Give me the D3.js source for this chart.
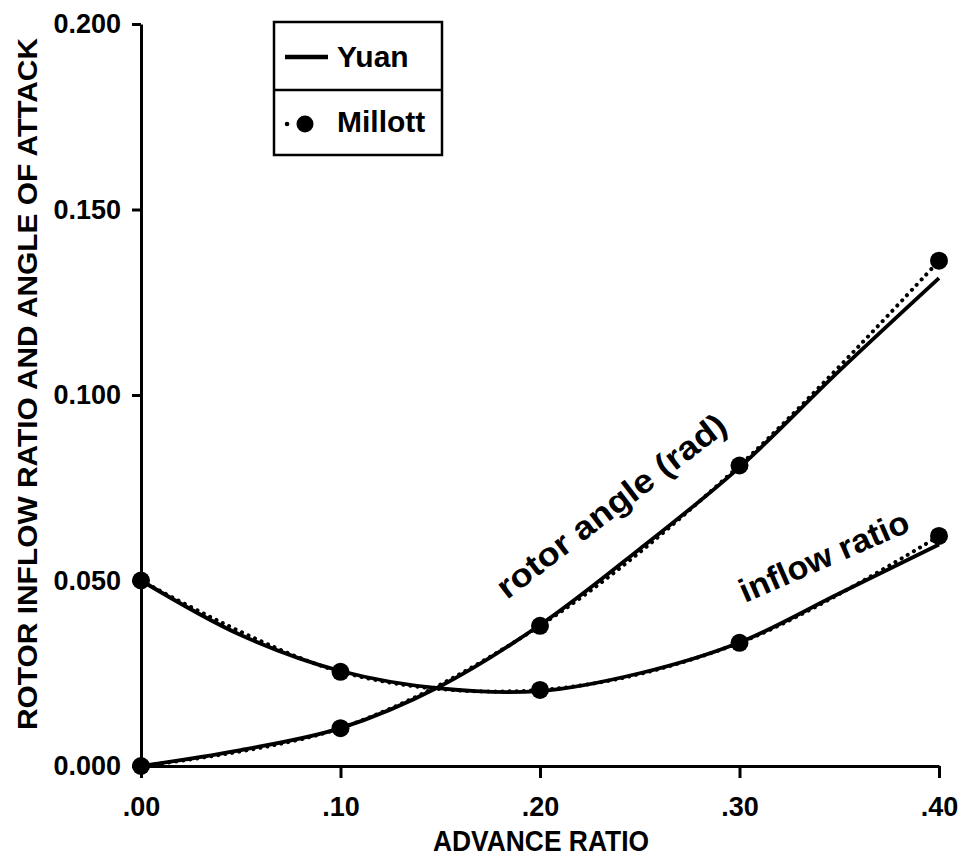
<!DOCTYPE html>
<html>
<head>
<meta charset="utf-8">
<script src="https://cdn.jsdelivr.net/npm/d3@7"></script>
<style>
  html, body { margin: 0; padding: 0; background: #fff; }
  svg { display: block; font-family: "Liberation Sans", Arial, sans-serif; }
</style>
</head>
<body>
<svg id="chart" width="968" height="860"></svg>
<script>
// ---- data ----
const xTicks = [0, 0.10, 0.20, 0.30, 0.40];
const yTicks = [0, 0.05, 0.10, 0.15, 0.20];

// Yuan (solid curves)
const yuanMu        = [0, 0.05, 0.10, 0.15, 0.20, 0.25, 0.30, 0.35, 0.40];
const yuanRotorAngle = [0, 0.0043, 0.0102, 0.0215, 0.0380, 0.0585, 0.0805, 0.1065, 0.1315];
const yuanInflow     = [0.050, 0.0353, 0.0256, 0.0209, 0.0202, 0.0250, 0.0333, 0.0465, 0.0597];

// Millott (dotted + markers)
const millottMu          = [0, 0.10, 0.20, 0.30, 0.40];
const millottRotorAngle  = [0, 0.0102, 0.0378, 0.0810, 0.1362];
const millottInflow      = [0.050, 0.0254, 0.0205, 0.0332, 0.0620];

const legendLabels = ["Yuan", "Millott"];
const xTitle = "ADVANCE RATIO";
const yTitle = "ROTOR INFLOW RATIO AND ANGLE OF ATTACK";
const annotRotor = "rotor angle (rad)";
const annotInflow = "inflow ratio";

// ---- drawing ----
const svg = d3.select("#chart");
const x = d3.scaleLinear().domain([0, 0.4]).range([141, 939]);
const y = d3.scaleLinear().domain([0, 0.2]).range([766, 24]);

// axes
const xAxis = d3.axisBottom(x).tickValues(xTicks)
  .tickFormat(d => d3.format(".2f")(d).replace(/^0\./, "."))
  .tickSize(12).tickSizeOuter(0).tickPadding(19);
const yAxis = d3.axisLeft(y).tickValues(yTicks)
  .tickFormat(d3.format(".3f"))
  .tickSize(9).tickSizeOuter(0).tickPadding(11);

const gx = svg.append("g").attr("transform", `translate(0,${y(0)})`).call(xAxis);
const gy = svg.append("g").attr("transform", `translate(${x(0)},0)`).call(yAxis);
[gx, gy].forEach(g => {
  g.select(".domain").attr("stroke", "#000").attr("stroke-width", 3);
  g.selectAll(".tick line").attr("stroke", "#000").attr("stroke-width", 3);
  g.selectAll(".tick text").attr("fill", "#000")
    .style("font-family", "'Liberation Sans', Arial, sans-serif")
    .style("font-weight", "bold").style("font-size", "27px");
});

// axis titles
svg.append("text")
  .attr("x", 541).attr("y", 851)
  .attr("text-anchor", "middle")
  .attr("textLength", 216).attr("lengthAdjust", "spacingAndGlyphs")
  .style("font-weight", "bold").style("font-size", "29px")
  .text(xTitle);

svg.append("text")
  .attr("transform", "translate(37,384) rotate(-90)")
  .attr("text-anchor", "middle")
  .attr("textLength", 692).attr("lengthAdjust", "spacingAndGlyphs")
  .style("font-weight", "bold").style("font-size", "28px")
  .text(yTitle);

// curves
const lineGen = d3.line().x(d => x(d[0])).y(d => y(d[1])).curve(d3.curveCatmullRom.alpha(0.5));
const zip = (a, b) => a.map((v, i) => [v, b[i]]);

const millottSeries = [zip(millottMu, millottRotorAngle), zip(millottMu, millottInflow)];
const yuanSeries = [zip(yuanMu, yuanRotorAngle), zip(yuanMu, yuanInflow)];

svg.append("g").selectAll("path").data(millottSeries).join("path")
  .attr("d", lineGen).attr("fill", "none").attr("stroke", "#000")
  .attr("stroke-width", 4).attr("stroke-linecap", "round")
  .attr("stroke-dasharray", "0.1,7");

svg.append("g").selectAll("path").data(yuanSeries).join("path")
  .attr("d", lineGen).attr("fill", "none").attr("stroke", "#000")
  .attr("stroke-width", 3.8);

svg.append("g").selectAll("circle").data(millottSeries.flat()).join("circle")
  .attr("cx", d => x(d[0])).attr("cy", d => y(d[1])).attr("r", 9).attr("fill", "#000");

// annotations
svg.append("text")
  .attr("transform", "translate(507,600) rotate(-37.5)")
  .attr("textLength", 280).attr("lengthAdjust", "spacingAndGlyphs")
  .style("font-weight", "bold").style("font-size", "33px")
  .text(annotRotor);
svg.append("text")
  .attr("transform", "translate(745,603) rotate(-23.5)")
  .attr("textLength", 182).attr("lengthAdjust", "spacingAndGlyphs")
  .style("font-weight", "bold").style("font-size", "33px")
  .text(annotInflow);

// legend
const lg = svg.append("g");
lg.append("rect").attr("x", 274).attr("y", 22).attr("width", 168).attr("height", 133)
  .attr("fill", "#fff").attr("stroke", "#000").attr("stroke-width", 2.5);
lg.append("line").attr("x1", 274).attr("x2", 442).attr("y1", 90).attr("y2", 90)
  .attr("stroke", "#000").attr("stroke-width", 2.5);
lg.append("line").attr("x1", 285).attr("x2", 328).attr("y1", 57).attr("y2", 57)
  .attr("stroke", "#000").attr("stroke-width", 4.5);
lg.append("text").attr("x", 337).attr("y", 67)
  .style("font-size", "30px").style("font-weight", "bold").text(legendLabels[0]);
lg.append("line").attr("x1", 287).attr("x2", 324).attr("y1", 124).attr("y2", 124)
  .attr("stroke", "#000").attr("stroke-width", 4.5).attr("stroke-linecap", "round")
  .attr("stroke-dasharray", "0.1,18.5");
lg.append("circle").attr("cx", 305).attr("cy", 124).attr("r", 8.5).attr("fill", "#000");
lg.append("text").attr("x", 337).attr("y", 132)
  .style("font-size", "30px").style("font-weight", "bold").text(legendLabels[1]);
</script>
</body>
</html>
